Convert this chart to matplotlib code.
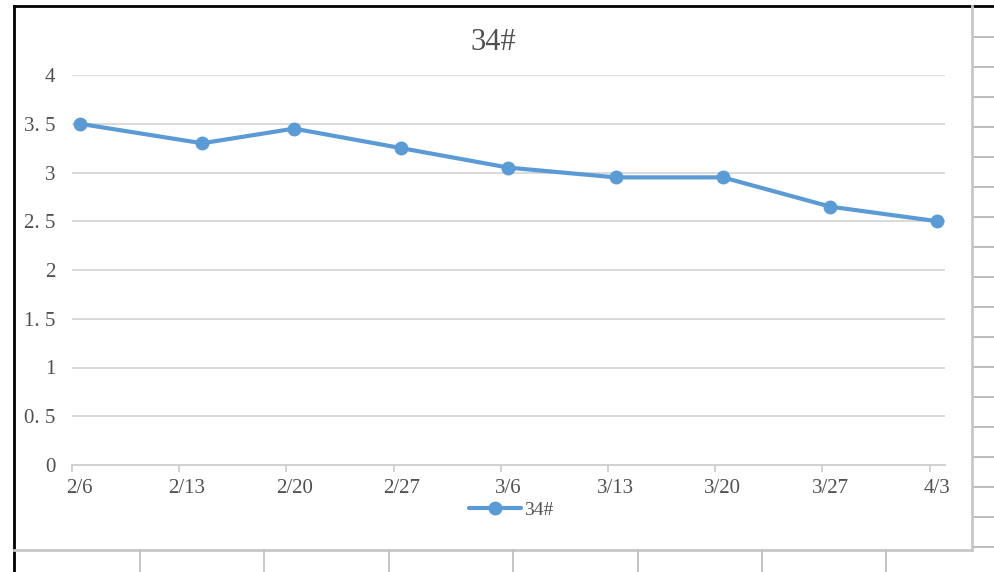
from datetime import date

import numpy as np
import matplotlib
matplotlib.use("Agg")
import matplotlib.pyplot as plt
from matplotlib.lines import Line2D

# data (date axis, day resolution)
dates = ["2/6", "2/14", "2/20", "2/27", "3/6", "3/13", "3/20", "3/27", "4/3"]
values = [3.5, 3.3, 3.45, 3.25, 3.05, 2.95, 2.95, 2.65, 2.5]
tick_labels = ["2/6", "2/13", "2/20", "2/27", "3/6", "3/13", "3/20", "3/27", "4/3"]
y_ticks = [0, 0.5, 1, 1.5, 2, 2.5, 3, 3.5, 4]
y_labels = ["0", "0. 5", "1", "1. 5", "2", "2. 5", "3", "3. 5", "4"]
series_name = "34#"


def day_offset(s, start="2/6", year=2023):
    m, d = map(int, s.split("/"))
    m0, d0 = map(int, start.split("/"))
    return (date(year, m, d) - date(year, m0, d0)).days


x = np.array([day_offset(d) for d in dates])
x_ticks = np.array([day_offset(d) for d in tick_labels])

plt.rcParams["font.family"] = ["Liberation Serif", "DejaVu Serif"]
W, H = 995, 572
fig = plt.figure(figsize=(W / 100, H / 100), dpi=100)
fig.patch.set_facecolor("white")

# plot area in pixels
left, right, top, bottom = 72, 945, 75, 465
ax = fig.add_axes([left / W, 1 - bottom / H, (right - left) / W, (bottom - top) / H])

blue = "#5b9bd5"
ax.plot(x, values, color=blue, lw=3, marker="o", ms=9, label=series_name,
        solid_capstyle="round", zorder=3)

ax.set_xlim(x_ticks[0] - 0.5, x_ticks[-1] + 0.5)
ax.set_ylim(0, 4)
ax.set_yticks(y_ticks)
ax.set_yticklabels(y_labels)
ax.yaxis.grid(True, color="#d9d9d9", lw=1.4)
ax.set_axisbelow(True)

# Excel date axis: labels on the day, tick marks on the day boundary
txt = "#505050"
ax.set_xticks(x_ticks)
ax.set_xticklabels(tick_labels)
ax.set_xticks(x_ticks - 0.5, minor=True)
ax.tick_params(axis="x", which="major", length=0, pad=10, labelsize=15, labelcolor=txt)
ax.tick_params(axis="x", which="minor", length=5, width=1.4, color="#d0d0d0")
ax.tick_params(axis="y", length=0, pad=12, labelsize=15, labelcolor=txt)

for s in ["top", "right", "left"]:
    ax.spines[s].set_visible(False)
ax.spines["bottom"].set_color("#d0d0d0")
ax.spines["bottom"].set_linewidth(1.4)

fig.text(493 / W, 1 - 42 / H, series_name, ha="center", va="center",
         fontsize=22, color=txt)

leg = ax.legend(loc="center", bbox_to_anchor=(511 / W, 1 - 510 / H),
                bbox_transform=fig.transFigure, frameon=False, fontsize=14,
                handlelength=2.7, handletextpad=0.15, labelcolor=txt)

# surrounding spreadsheet / chart frame
def fline(xs, ys, **kw):
    fig.add_artist(Line2D([v / W for v in xs], [1 - v / H for v in ys], **kw))


fline([14, 14], [6, H], color="black", lw=2)
fline([14, W], [6, 6], color="black", lw=2)
fline([972, 972], [6, 550], color="#c8c8c8", lw=2)
fline([14, 972], [550, 550], color="#c8c8c8", lw=2)
for cx in np.arange(140, 972, 124.4):
    fline([cx, cx], [550, H], color="#c0c0c0", lw=1.3)
for ry in np.arange(37, 550, 30):
    fline([974, W], [ry, ry], color="#b8b8b8", lw=1.3)

fig.savefig("out.png", dpi=100)
